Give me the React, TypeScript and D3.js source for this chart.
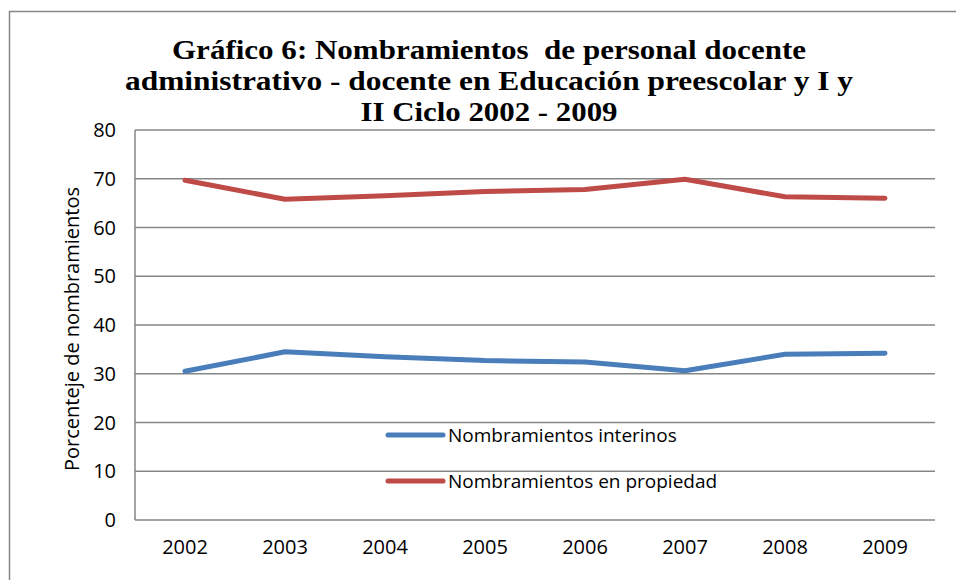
import React from "react";
import * as d3 from "d3";

const years = ["2002", "2003", "2004", "2005", "2006", "2007", "2008", "2009"];
const interinos = [30.5, 34.5, 33.5, 32.7, 32.4, 30.6, 34.0, 34.2];
const propiedad = [69.7, 65.8, 66.5, 67.4, 67.8, 69.9, 66.3, 66.0];
const yTicks = [0, 10, 20, 30, 40, 50, 60, 70, 80];
const titleLines = [
  "Gráfico 6: Nombramientos  de personal docente",
  "administrativo - docente en Educación preescolar y I y",
  "II Ciclo 2002 - 2009",
];
const seriesNames = ["Nombramientos interinos", "Nombramientos en propiedad"];
const yTitle = "Porcenteje de nombramientos";

const W = 956;
const H = 580;
const plot = { left: 135, right: 935, top: 130, bottom: 520 };
const grey = "#868686";
const colors = ["#4A7EBB", "#BE4B48"];
const sans = "'Open Sans', sans-serif";

export default function App() {
  const x = d3.scaleBand().domain(years).range([plot.left, plot.right]);
  const y = d3.scaleLinear().domain([0, 80]).range([plot.bottom, plot.top]);

  const line = d3
    .line<number>()
    .x((_, i) => (x(years[i]) ?? 0) + x.bandwidth() / 2)
    .y((d) => y(d));

  const series = [interinos, propiedad];
  const titleWidths = [634, 728, 257];

  return (
    <svg
      width={W}
      height={H}
      style={{ position: "absolute", left: 0, top: 0, background: "#fff" }}
    >
      <rect x={9.5} y={11.5} width={W + 20} height={H + 20} fill="#fff" stroke={grey} strokeWidth={1.5} />

      {titleLines.map((t, i) => (
        <text
          key={i}
          x={489}
          y={59 + i * 31}
          textAnchor="middle"
          fontFamily="'Liberation Serif', serif"
          fontWeight="bold"
          fontSize={27}
          textLength={titleWidths[i]}
          lengthAdjust="spacingAndGlyphs"
          style={{ whiteSpace: "pre" }}
        >
          {t}
        </text>
      ))}

      {yTicks.map((t) => (
        <g key={t}>
          <line x1={plot.left} x2={plot.right} y1={y(t)} y2={y(t)} stroke={grey} strokeWidth={1.5} />
          <text x={116} y={y(t)} dy="0.35em" textAnchor="end" fontFamily={sans} fontSize={20} fill="#000">
            {t}
          </text>
        </g>
      ))}
      <line x1={plot.left} x2={plot.left} y1={plot.top} y2={plot.bottom} stroke={grey} strokeWidth={1.5} />

      {years.map((yr) => (
        <text
          key={yr}
          x={(x(yr) ?? 0) + x.bandwidth() / 2}
          y={554}
          textAnchor="middle"
          fontFamily={sans}
          fontSize={20}
          fill="#000"
        >
          {yr}
        </text>
      ))}

      <text
        transform={`translate(79,329) rotate(-90)`}
        textAnchor="middle"
        fontFamily={sans}
        fontSize={20}
        fill="#000"
      >
        {yTitle}
      </text>

      {series.map((s, i) => (
        <path
          key={i}
          d={line(s) ?? ""}
          fill="none"
          stroke={colors[i]}
          strokeWidth={5}
          strokeLinejoin="round"
          strokeLinecap="round"
        />
      ))}

      {seriesNames.map((n, i) => (
        <g key={n} transform={`translate(0,${435 + i * 46})`}>
          <line x1={388} x2={443} y1={0} y2={0} stroke={colors[i]} strokeWidth={5} strokeLinecap="round" />
          <text x={448} y={0} dy="0.35em" fontFamily={sans} fontSize={19} fill="#000">
            {n}
          </text>
        </g>
      ))}
    </svg>
  );
}
